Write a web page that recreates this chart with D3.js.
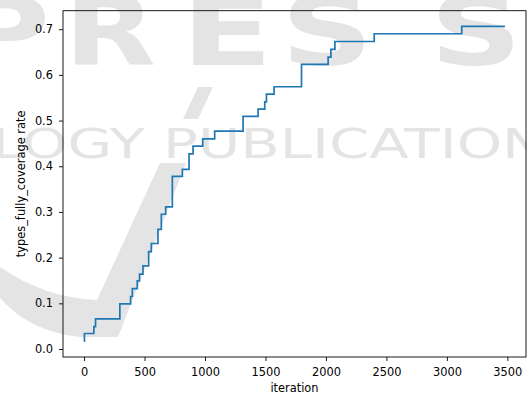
<!DOCTYPE html>
<html>
<head>
<meta charset="utf-8">
<script src="https://cdn.jsdelivr.net/npm/d3@7"></script>
<style>
  html, body { margin: 0; padding: 0; background: #fff; }
  svg { display: block; font-family: "DejaVu Sans", sans-serif; }
</style>
</head>
<body>
<div id="chart"></div>
<script>
// step data
var iterations = [0, 3, 81, 95, 296, 385, 399, 440, 459, 487, 534, 556, 611, 639, 675,
  730, 813, 868, 901, 981, 1080, 1315, 1439, 1494, 1508, 1571, 1798, 2018, 2041, 2074,
  2399, 3123, 3480];
var coverage = [0.017, 0.034, 0.049, 0.066, 0.099, 0.115, 0.132, 0.149, 0.164, 0.182, 0.213,
  0.231, 0.262, 0.295, 0.311, 0.378, 0.393, 0.427, 0.444, 0.460, 0.477, 0.509, 0.525,
  0.541, 0.558, 0.574, 0.623, 0.639, 0.656, 0.673, 0.690, 0.706, 0.706];
var xTicks = [0, 500, 1000, 1500, 2000, 2500, 3000, 3500];
var yTicks = [0.0, 0.1, 0.2, 0.3, 0.4, 0.5, 0.6, 0.7];

var width = 527, height = 397;
var mLeft = 63, mRight = 526, mTop = 10.7, mBottom = 357;
var fontSize = 11.4;
var wm = "#e4e4e4";

var data = iterations.map(function(d, i) { return {x: d, y: coverage[i]}; });

var svg = d3.select("#chart").append("svg")
    .attr("width", width)
    .attr("height", height);

// watermark
var mark = svg.append("g").attr("class", "watermark");
mark.append("path")
    .attr("d", "M0,267 Q45,298 97,300 L160,163 L186,163 L118,337 L80,337 Q30,332 0,298 Z")
    .attr("fill", wm);
mark.append("path")
    .attr("d", "M183,119 L198,119 L213,87 L198,87 Z")
    .attr("fill", wm);
var bigLetters = [["P", -42], ["R", 64], ["E", 181], ["S", 281], ["S", 430]];
bigLetters.forEach(function(l) {
  var t = mark.append("text")
      .attr("font-size", 96).attr("font-weight", "bold")
      .attr("fill", wm)
      .text(l[0]);
  var w = t.node().getComputedTextLength();
  t.attr("transform", "translate(" + l[1] + ",65) scale(" + (92 / w) + ",1)");
});
mark.append("text")
    .attr("x", -8).attr("y", 158)
    .attr("font-size", 41)
    .attr("textLength", 590).attr("lengthAdjust", "spacingAndGlyphs")
    .attr("fill", wm)
    .text("LOGY PUBLICATIONS");

// scales with matplotlib style 5% margins
var xExt = d3.extent(iterations), yExt = d3.extent(coverage);
var xPad = (xExt[1] - xExt[0]) * 0.05, yPad = (yExt[1] - yExt[0]) * 0.05;
var x = d3.scaleLinear().domain([xExt[0] - xPad, xExt[1] + xPad]).range([mLeft, mRight]);
var y = d3.scaleLinear().domain([yExt[0] - yPad, yExt[1] + yPad]).range([mBottom, mTop]);

var line = d3.line()
    .x(function(d) { return x(d.x); })
    .y(function(d) { return y(d.y); })
    .curve(d3.curveStepAfter);

svg.append("path")
    .datum(data)
    .attr("fill", "none")
    .attr("stroke", "#1f77b4")
    .attr("stroke-width", 1.7)
    .attr("d", line);

// axes
var xAxis = svg.append("g")
    .attr("transform", "translate(0," + mBottom + ")")
    .call(d3.axisBottom(x).tickValues(xTicks).tickSize(4).tickPadding(7).tickSizeOuter(0)
      .tickFormat(d3.format("d")));
var yAxis = svg.append("g")
    .attr("transform", "translate(" + mLeft + ",0)")
    .call(d3.axisLeft(y).tickValues(yTicks).tickSize(4).tickPadding(6).tickSizeOuter(0)
      .tickFormat(d3.format(".1f")));

[xAxis, yAxis].forEach(function(a) {
  a.select(".domain").remove();
  a.selectAll("line").attr("stroke", "#000").attr("stroke-width", 0.9);
  a.selectAll("text").attr("font-size", fontSize).attr("fill", "#000")
    .attr("font-family", "DejaVu Sans");
});

// frame
svg.append("rect")
    .attr("x", mLeft).attr("y", mTop)
    .attr("width", mRight - mLeft).attr("height", mBottom - mTop)
    .attr("fill", "none")
    .attr("stroke", "#000")
    .attr("stroke-width", 0.9);

// labels
svg.append("text")
    .attr("x", (mLeft + mRight) / 2).attr("y", 392)
    .attr("text-anchor", "middle")
    .attr("font-size", fontSize)
    .text("iteration");
svg.append("text")
    .attr("transform", "translate(25," + ((mTop + mBottom) / 2) + ") rotate(-90)")
    .attr("text-anchor", "middle")
    .attr("font-size", fontSize)
    .text("types_fully_coverage rate");
</script>
</body>
</html>
